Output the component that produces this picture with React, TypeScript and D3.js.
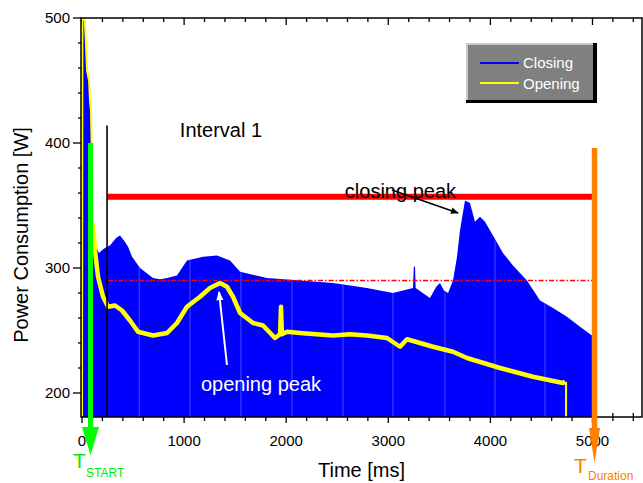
import React from 'react'
import * as d3 from 'd3'

// closing curve [time ms, power W] – top edge of the blue fill
const closing: [number, number][] = [
  [0, 500], [20, 498], [50, 462], [70, 450], [85, 420], [108, 336], [127, 318],
  [167, 312], [206, 315], [245, 317], [274, 318], [333, 324], [372, 326],
  [411, 322], [451, 317], [490, 309], [568, 300], [695, 292], [764, 291],
  [833, 292], [930, 294], [1028, 306], [1185, 309], [1322, 310], [1450, 306],
  [1548, 297], [1812, 292], [2135, 290], [2458, 288], [2791, 284], [3046, 280],
  [3242, 284], [3250, 301], [3262, 301], [3268, 284], [3408, 276], [3470, 285],
  [3506, 288], [3545, 282], [3585, 280], [3634, 290], [3673, 309], [3702, 330],
  [3751, 354], [3800, 352], [3849, 337], [3898, 341], [3947, 337], [4025, 326],
  [4123, 312], [4221, 302], [4358, 290], [4486, 274], [4613, 268], [4750, 261],
  [4878, 253], [4995, 246]
]

// opening curve [time ms, power W]
const opening: [number, number][] = [
  [0, 181], [4, 500], [29, 498], [49, 458], [69, 450], [78, 434], [88, 426],
  [108, 336], [127, 314], [157, 293], [206, 277], [255, 269], [323, 270],
  [392, 266], [470, 258], [548, 249], [695, 246], [833, 248], [930, 256],
  [1028, 269], [1156, 277], [1254, 284], [1352, 288], [1420, 285], [1479, 277],
  [1548, 264], [1675, 256], [1773, 254], [1890, 244], [1940, 247], [1949, 269],
  [1958, 247], [2008, 249], [2135, 248], [2458, 246], [2625, 247], [2791, 246],
  [2987, 244], [3115, 237], [3183, 243], [3438, 237], [3634, 233], [3771, 228],
  [4094, 220], [4417, 213], [4711, 208], [4731, 209]
]
const openingEnd = 4741

// faint seams inside the blue fill
const seams = [560, 1058, 1557, 2057, 2556, 3046, 3555, 4045, 4535]

const xMajor = [0, 1000, 2000, 3000, 4000, 5000]
const yMajor = [200, 300, 400, 500]

const closingPeak = 357
const meanLevel = 290
const intervalStart = 245
const intervalTop = 414
const levelEnd = 4995
const tStart = 83
const tStartTop = 400
const tDuration = 5020
const tDurationTop = 396

const W = 643
const H = 483
const L = 81
const R = 642
const T = 18
const B = 417

const x = d3.scaleLinear().domain([-10, 5485]).range([L, R])
const y = d3.scaleLinear().domain([180.8, 500]).range([B, T])

const area = d3
  .area<[number, number]>()
  .x(d => x(d[0]))
  .y0(B)
  .y1(d => y(d[1]))

const line = d3
  .line<[number, number]>()
  .x(d => x(d[0]))
  .y(d => y(d[1]))

const font = 'Liberation Sans, Arial, sans-serif'

const App = () => {
  const xMinor = d3.range(0, 5401, 200)
  const yMinor = d3.range(200, 501, 20)
  const thick = opening.filter(d => d[0] >= 100)
  const last = opening[opening.length - 1]

  const gx = x(tStart)
  const ox = x(tDuration)

  return (
    <svg
      width={W}
      height={H}
      viewBox={`0,0,${W},${H}`}
      style={{ position: 'absolute', left: 0, top: 0, fontFamily: font }}
    >
      <defs>
        <clipPath id="fillClip">
          <path d={area(closing) || ''} />
        </clipPath>
        <marker id="headBlack" viewBox="0 0 10 10" refX="9" refY="5" markerWidth="8" markerHeight="8" orient="auto" markerUnits="userSpaceOnUse">
          <path d="M0,1 L10,5 L0,9 z" fill="#000" />
        </marker>
        <marker id="headWhite" viewBox="0 0 10 10" refX="9" refY="5" markerWidth="12" markerHeight="9" orient="auto" markerUnits="userSpaceOnUse">
          <path d="M0,1 L10,5 L0,9 z" fill="#fff" />
        </marker>
      </defs>

      {/* ticks */}
      <g stroke="#000" strokeWidth={1.3}>
        {xMinor.map(v => {
          const major = v % 1000 === 0
          const len = major ? 6 : 4
          return (
            <g key={'x' + v}>
              <line x1={x(v)} x2={x(v)} y1={B - len} y2={B + len} />
              <line x1={x(v)} x2={x(v)} y1={T} y2={T + (major ? 7 : 4)} />
            </g>
          )
        })}
        {yMinor.map(v => {
          const major = v % 100 === 0
          return <line key={'y' + v} x1={L - (major ? 8 : 3)} x2={L} y1={y(v)} y2={y(v)} />
        })}
      </g>

      {/* closing fill */}
      <path d={area(closing) || ''} fill="#0000ff" />
      <g clipPath="url(#fillClip)" stroke="#4646ff" strokeWidth={1}>
        {seams.map(s => (
          <line key={s} x1={x(s)} x2={x(s)} y1={T} y2={B} />
        ))}
      </g>

      {/* opening */}
      <path d={line(opening) || ''} fill="none" stroke="#ffff00" strokeWidth={2} strokeLinejoin="round" />
      <path d={line(thick) || ''} fill="none" stroke="#ffff00" strokeWidth={4.5} strokeLinejoin="round" />
      <line x1={x(openingEnd)} x2={x(openingEnd)} y1={y(last[1])} y2={B} stroke="#ffff00" strokeWidth={2} />

      {/* reference levels */}
      <line x1={x(intervalStart)} x2={x(levelEnd)} y1={y(closingPeak)} y2={y(closingPeak)} stroke="#ff0000" strokeWidth={6} />
      <line x1={x(intervalStart + 10)} x2={x(levelEnd)} y1={y(meanLevel)} y2={y(meanLevel)} stroke="#ff0000" strokeWidth={1.6} strokeDasharray="5,2,1.5,2" />
      <line x1={x(intervalStart)} x2={x(intervalStart)} y1={y(intervalTop)} y2={B} stroke="#000" strokeWidth={1.6} />

      {/* annotations */}
      <text x={x(1361)} y={y(404.8)} fontSize={20} textAnchor="middle" fill="#000">Interval 1</text>
      <text x={x(3119)} y={y(356)} fontSize={20} textAnchor="middle" fill="#000">closing peak</text>
      <line x1={x(3036)} y1={y(362.4)} x2={x(3683)} y2={y(344)} stroke="#000" strokeWidth={1.6} markerEnd="url(#headBlack)" />
      <text x={x(1753)} y={y(201.6)} fontSize={20} textAnchor="middle" fill="#fff">opening peak</text>
      <line x1={x(1420)} y1={y(222.4)} x2={x(1342)} y2={y(280.8)} stroke="#fff" strokeWidth={2} markerEnd="url(#headWhite)" />

      {/* frame */}
      <rect x={L} y={T} width={R - L} height={B - T} fill="none" stroke="#000" strokeWidth={1.5} />

      {/* tick labels */}
      <g fontSize={15} fill="#000">
        {yMajor.map(v => (
          <text key={v} x={L - 11} y={y(v)} dy="0.36em" textAnchor="end">{v}</text>
        ))}
        {xMajor.map(v => (
          <text key={v} x={x(v)} y={B + 29} textAnchor="middle">{v}</text>
        ))}
      </g>

      {/* axis titles */}
      <text x={(L + R) / 2} y={477} fontSize={20} textAnchor="middle" fill="#000">
        Time [ms]
      </text>
      <text transform={`translate(28,235) rotate(-90)`} fontSize={20} textAnchor="middle" fill="#000">
        Power Consumption [W]
      </text>

      {/* T_START arrow */}
      <rect x={gx - 2.5} y={y(tStartTop)} width={5} height={B + 11 - y(tStartTop)} fill="#00ff00" />
      <path d={`M${gx - 8.5},${B + 10} L${gx + 8.5},${B + 10} L${gx},${B + 38} z`} fill="#00ff00" />
      <text x={73} y={468} fontSize={21} fill="#00ee00">T</text>
      <text x={86} y={477} fontSize={12} fill="#00ee00">START</text>

      {/* T_Duration arrow */}
      <rect x={ox - 2.75} y={y(tDurationTop)} width={5.5} height={B + 12 - y(tDurationTop)} fill="#ff8000" />
      <path d={`M${ox - 5.5},${B + 11} L${ox + 5.5},${B + 11} L${ox},${B + 46} z`} fill="#ff8000" />
      <text x={574} y={473} fontSize={21} fill="#ff8000">T</text>
      <text x={588} y={480} fontSize={12} fill="#ff8000">Duration</text>

      {/* legend */}
      <g>
        <rect x={466} y={43} width={131} height={60} fill="#000" />
        <rect x={466} y={43} width={127} height={57} fill="#c8c8c8" />
        <rect x={468} y={45} width={125} height={55} fill="#808080" />
        <line x1={480} x2={519} y1={63} y2={63} stroke="#0000ff" strokeWidth={2} />
        <line x1={480} x2={519} y1={83} y2={83} stroke="#ffff00" strokeWidth={2} />
        <text x={523} y={68} fontSize={15} fill="#fff">Closing</text>
        <text x={523} y={88.5} fontSize={15} fill="#fff">Opening</text>
      </g>
    </svg>
  )
}

export default App
